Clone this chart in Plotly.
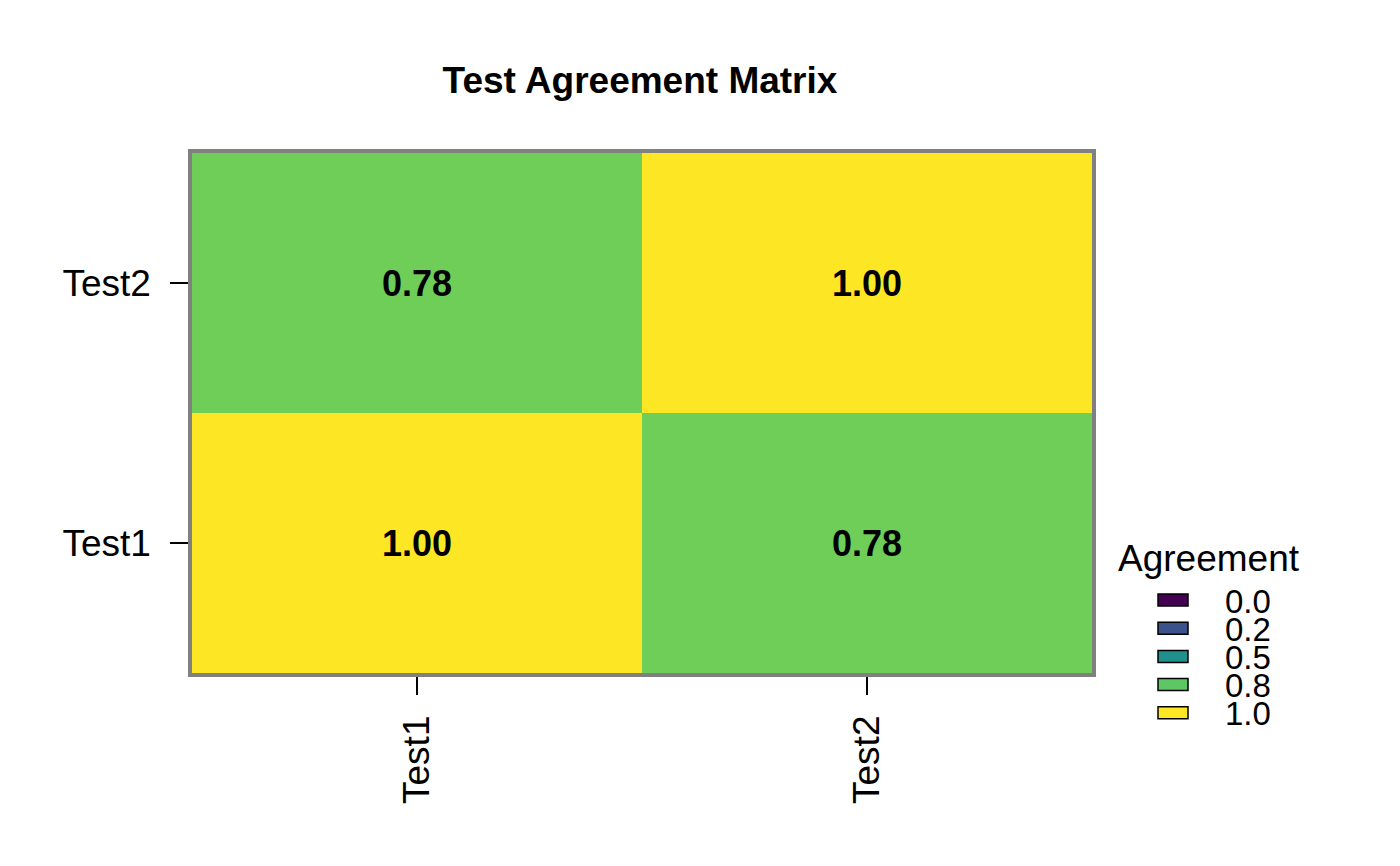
import plotly.graph_objects as go

# ---- data ----
tests_x = ["Test1", "Test2"]
tests_y = ["Test1", "Test2"]
agreement = [
    [1.00, 0.78],  # row Test1
    [0.78, 1.00],  # row Test2
]
legend_labels = ["0.0", "0.2", "0.5", "0.8", "1.0"]
legend_colors = ["#440154", "#3B528B", "#21908C", "#5DC863", "#FDE725"]

FONT = "Liberation Sans, Arial, sans-serif"

# page offset (browser default body margin)
OFF = 8
W, H = 1400, 866
L, T = 184, 145
PW, PH = 900, 520
R = W - L - PW
B = H - T - PH


def px_x(px):
    return (px - OFF - L) / PW


def px_y(py):
    return (T + PH - (py - OFF)) / PH


fig = go.Figure()
fig.add_trace(go.Heatmap(
    x=tests_x, y=tests_y, z=agreement,
    colorscale="Viridis", zmin=0, zmax=1, showscale=False,
    texttemplate="<b>%{z:.2f}</b>",
    textfont=dict(family=FONT, size=36, color="black"),
    hoverinfo="skip",
))

shapes = []
annotations = []
# legend title
annotations.append(dict(
    xref="paper", yref="paper", x=px_x(1116), y=px_y(558),
    xanchor="left", yanchor="middle", showarrow=False,
    text="Agreement", font=dict(family=FONT, size=37, color="black"),
))
for i, (lab, col) in enumerate(zip(legend_labels, legend_colors)):
    cy = 600 + i * 28.2
    shapes.append(dict(
        type="rect", xref="paper", yref="paper",
        x0=px_x(1158), x1=px_x(1188), y0=px_y(cy - 6), y1=px_y(cy + 6),
        fillcolor=col, line=dict(color="black", width=1.5),
    ))
    annotations.append(dict(
        xref="paper", yref="paper", x=px_x(1223), y=px_y(cy + 1),
        xanchor="left", yanchor="middle", showarrow=False,
        text=lab, font=dict(family=FONT, size=33, color="black"),
    ))

fig.update_layout(
    width=W, height=H,
    margin=dict(l=L, r=R, t=T, b=B),
    paper_bgcolor="white", plot_bgcolor="white",
    title=dict(text="<b>Test Agreement Matrix</b>", x=px_x(640), xref="paper",
               xanchor="center", y=1 - (80 - OFF) / H, yanchor="middle",
               font=dict(family=FONT, size=37, color="black")),
    shapes=shapes, annotations=annotations,
    showlegend=False,
)
fig.update_xaxes(
    type="category", showgrid=False, zeroline=False,
    showline=True, mirror=True, linecolor="#808080", linewidth=3.5,
    ticks="outside", ticklen=18, tickwidth=1.5, tickcolor="black",
    tickangle=-90, ticklabelstandoff=6,
    tickfont=dict(family=FONT, size=37, color="black"),
)
fig.update_yaxes(
    type="category", showgrid=False, zeroline=False,
    showline=True, mirror=True, linecolor="#808080", linewidth=3.5,
    ticks="outside", ticklen=18, tickwidth=1.5, tickcolor="black",
    ticklabelstandoff=12,
    tickfont=dict(family=FONT, size=37, color="black"),
)

fig.write_html("out.html")
